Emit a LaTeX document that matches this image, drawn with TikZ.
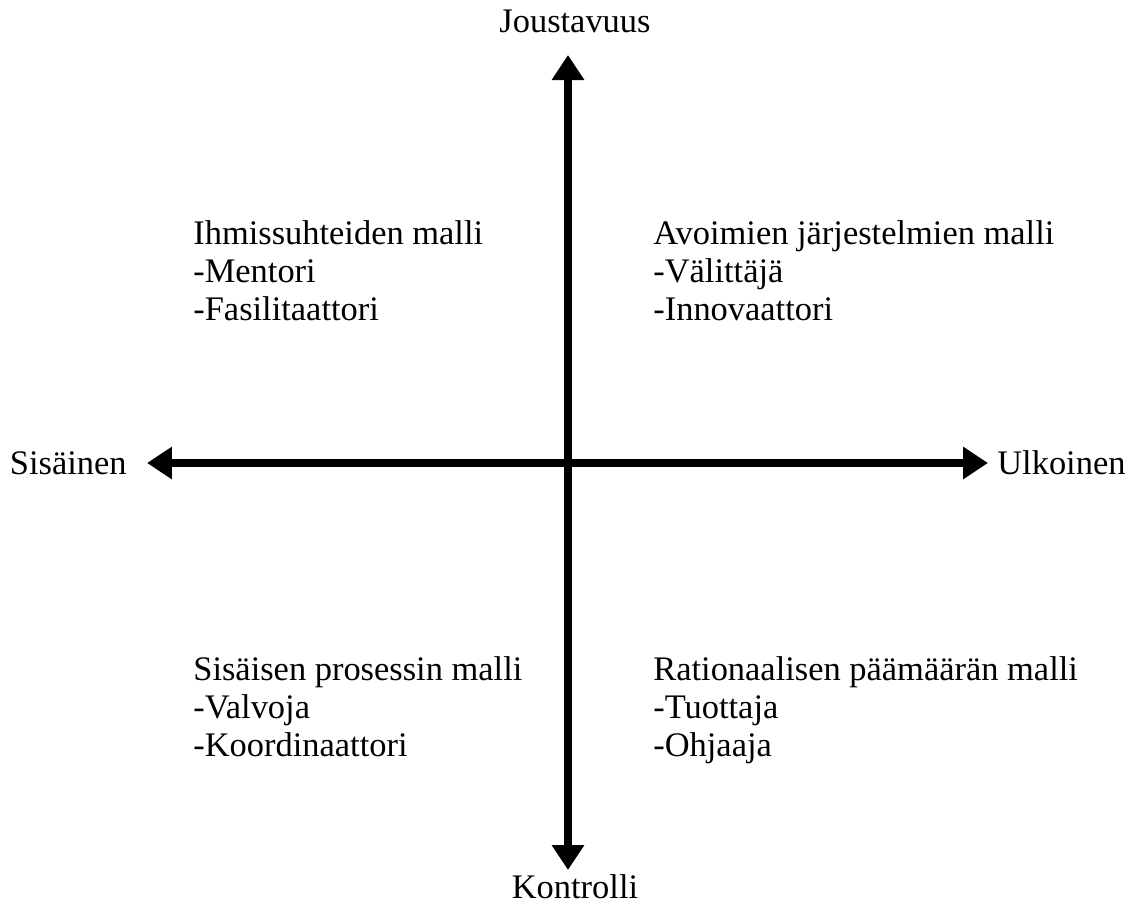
\documentclass[tikz,border=0pt]{standalone}
\usepackage{fontspec}
\setmainfont{Liberation Serif}
\usetikzlibrary{arrows.meta}

\begin{document}
\begin{tikzpicture}[x=0.02cm, y=-0.02cm,
    axis/.style={line width=0.16cm, -{Triangle[length=0.5cm, width=0.62cm]}},
    lab/.style={inner sep=0pt, font=\fontsize{19.6}{21.6}\selectfont},
    quad/.style={lab, anchor=base west, align=left}]
    \useasboundingbox (0,0) rectangle (1129,904);

    % axes
    \coordinate (o) at (568,463);
    \coordinate (top) at (568,55);
    \coordinate (bottom) at (568,870);
    \coordinate (left) at (147,463);
    \coordinate (right) at (988,463);
    \draw[axis] (o) -- (top);
    \draw[axis] (o) -- (bottom);
    \draw[axis] (o) -- (left);
    \draw[axis] (o) -- (right);

    % axis labels
    \node[lab, anchor=base] (jous) at (575,32) {Joustavuus};
    \node[lab, anchor=base] (kont) at (575,898) {Kontrolli};
    \node[lab, anchor=base east] (sis) at (127,474) {Sisäinen};
    \node[lab, anchor=base west] (ulk) at (997,474) {Ulkoinen};

    % quadrants (base = last line)
    \node[quad] (ihm) at (193,320) {Ihmissuhteiden malli\\-Mentori\\-Fasilitaattori};
    \node[quad] (avo) at (653,320) {Avoimien järjestelmien malli\\-Välittäjä\\-Innovaattori};
    \node[quad] (sisp) at (193,756) {Sisäisen prosessin malli\\-Valvoja\\-Koordinaattori};
    \node[quad] (rat) at (653,756) {Rationaalisen päämäärän malli\\-Tuottaja\\-Ohjaaja};
\end{tikzpicture}
\end{document}
